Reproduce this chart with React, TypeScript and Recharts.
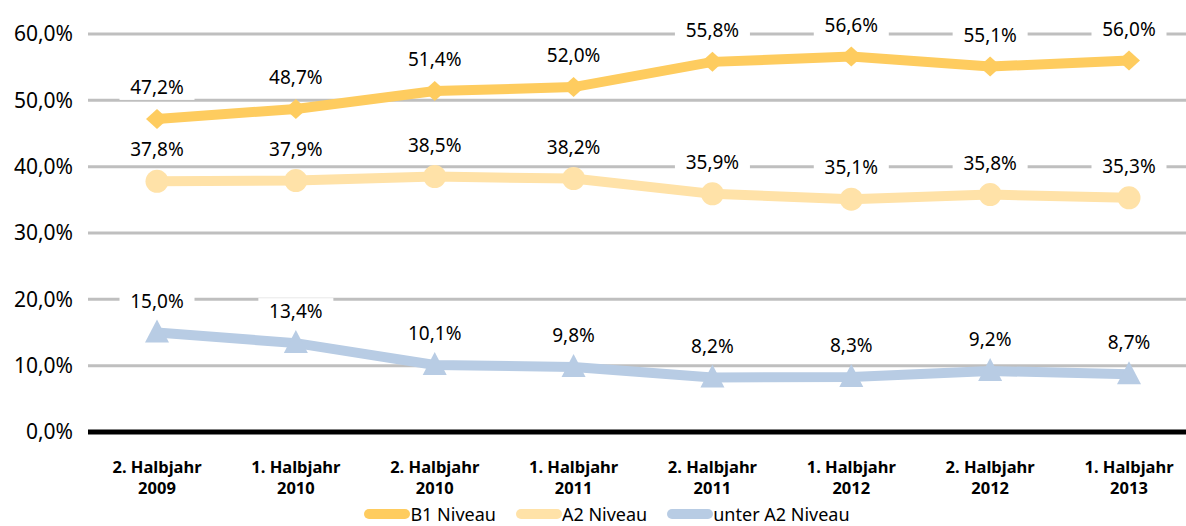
import { LineChart, Line, XAxis, YAxis, CartesianGrid, Legend, LabelList } from 'recharts';

const categories = [
  '2. Halbjahr 2009',
  '1. Halbjahr 2010',
  '2. Halbjahr 2010',
  '1. Halbjahr 2011',
  '2. Halbjahr 2011',
  '1. Halbjahr 2012',
  '2. Halbjahr 2012',
  '1. Halbjahr 2013',
];
const b1Niveau = [47.2, 48.7, 51.4, 52.0, 55.8, 56.6, 55.1, 56.0];
const a2Niveau = [37.8, 37.9, 38.5, 38.2, 35.9, 35.1, 35.8, 35.3];
const unterA2 = [15.0, 13.4, 10.1, 9.8, 8.2, 8.3, 9.2, 8.7];
const yTicks = [0, 10, 20, 30, 40, 50, 60];

const data = categories.map((c, i) => ({
  name: c,
  b1: b1Niveau[i],
  a2: a2Niveau[i],
  unter: unterA2[i],
}));

const FONT = '"Noto Sans", sans-serif';
const B1_COLOR = '#FECC5F';
const A2_COLOR = '#FFE2A8';
const UNTER_COLOR = '#B8CCE4';

const fmt = (v: number) => v.toFixed(1).replace('.', ',') + '%';

function DiamondDot(props: any) {
  const { cx, cy } = props;
  if (cx == null || cy == null) return null;
  return <path d={`M${cx - 11},${cy} L${cx},${cy - 10} L${cx + 11},${cy} L${cx},${cy + 10} Z`} fill={B1_COLOR} />;
}

function CircleDot(props: any) {
  const { cx, cy } = props;
  if (cx == null || cy == null) return null;
  return <circle cx={cx} cy={cy} r={11.5} fill={A2_COLOR} />;
}

function TriangleDot(props: any) {
  const { cx, cy } = props;
  if (cx == null || cy == null) return null;
  return <path d={`M${cx},${cy - 13} L${cx + 12},${cy + 10} L${cx - 12},${cy + 10} Z`} fill={UNTER_COLOR} />;
}

function ValueLabel(props: any) {
  const { x, y, value } = props;
  const text = fmt(value);
  const w = text.length * 11 + 20;
  const cy = y - 32;
  return (
    <g>
      <rect x={x - w / 2} y={cy - 13} width={w} height={26} fill="#fff" />
      <text x={x} y={cy} textAnchor="middle" dominantBaseline="central" fontSize={19} fontFamily={FONT} fill="#000">
        {text}
      </text>
    </g>
  );
}

function CategoryTick(props: any) {
  const { x, y, payload } = props;
  const parts = String(payload.value).split(' ');
  const line1 = parts.slice(0, 2).join(' ');
  const line2 = parts[2];
  return (
    <g>
      <text x={x} y={y + 33} textAnchor="middle" fontSize={16.5} fontWeight="bold" fontFamily={FONT} fill="#000">
        <tspan x={x} dy={0}>{line1}</tspan>
        <tspan x={x} dy={20.5}>{line2}</tspan>
      </text>
    </g>
  );
}

function LegendContent() {
  const items = [
    { label: 'B1 Niveau', color: B1_COLOR },
    { label: 'A2 Niveau', color: A2_COLOR },
    { label: 'unter A2 Niveau', color: UNTER_COLOR },
  ];
  return (
    <div style={{ display: 'flex', justifyContent: 'center', alignItems: 'center', fontFamily: FONT, fontSize: 18, color: '#000', paddingLeft: 16, lineHeight: '24px' }}>
      {items.map((it, i) => (
        <div key={it.label} style={{ display: 'flex', alignItems: 'center', marginRight: i < items.length - 1 ? 20 : 0 }}>
          <svg width={46} height={14}>
            <line x1={5} y1={7} x2={41} y2={7} stroke={it.color} strokeWidth={10} strokeLinecap="round" />
          </svg>
          <span>{it.label}</span>
        </div>
      ))}
    </div>
  );
}

export default function App() {
  return (
    <div style={{ position: 'absolute', left: 0, top: 0, width: 1186, height: 526, overflow: 'hidden', background: '#fff' }}>
      <LineChart width={1198} height={526} data={data} margin={{ top: 34, right: 0, left: 0, bottom: 0 }}>
        <CartesianGrid vertical={false} stroke="#BFBFBF" strokeWidth={3} />
        <XAxis
          dataKey="name"
          axisLine={{ stroke: '#000', strokeWidth: 5 }}
          tickLine={false}
          tick={<CategoryTick />}
          height={70}
          interval={0}
          padding={{ left: 69, right: 69 }}
        />
        <YAxis
          domain={[0, 60]}
          ticks={yTicks}
          width={88}
          axisLine={false}
          tickLine={false}
          tickMargin={9}
          tickFormatter={fmt}
          tick={{ fill: '#000', fontSize: 21, fontFamily: FONT }}
        />
        <Legend
          verticalAlign="bottom"
          content={<LegendContent />}
          wrapperStyle={{ height: 24, bottom: 0 }}
        />
        <Line dataKey="b1" name="B1 Niveau" stroke={B1_COLOR} strokeWidth={10} dot={<DiamondDot />} activeDot={false} isAnimationActive={false}>
          <LabelList dataKey="b1" content={<ValueLabel />} />
        </Line>
        <Line dataKey="a2" name="A2 Niveau" stroke={A2_COLOR} strokeWidth={10} dot={<CircleDot />} activeDot={false} isAnimationActive={false}>
          <LabelList dataKey="a2" content={<ValueLabel />} />
        </Line>
        <Line dataKey="unter" name="unter A2 Niveau" stroke={UNTER_COLOR} strokeWidth={10} dot={<TriangleDot />} activeDot={false} isAnimationActive={false}>
          <LabelList dataKey="unter" content={<ValueLabel />} />
        </Line>
      </LineChart>
    </div>
  );
}
